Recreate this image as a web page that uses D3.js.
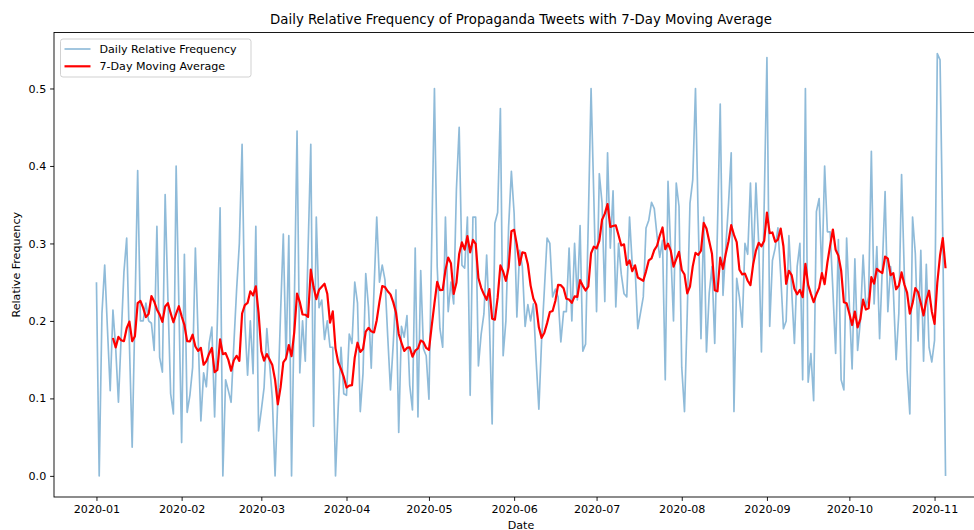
<!DOCTYPE html>
<head>
    <meta charset="utf-8">
    <title>Daily Relative Frequency of Propaganda Tweets</title>
    <style>
        body { margin: 0; background: #fff; }
        text { font-family: 'DejaVu Sans', sans-serif; fill: #000; }
        .axis path, .axis line { stroke: #000; stroke-width: 0.9; }
        .axis text { font-size: 11.1px; }
    </style>
</head>
<body>

<svg width="974" height="530"></svg>

<script src="https://cdnjs.cloudflare.com/ajax/libs/d3/7.8.5/d3.min.js"></script>

<script>

// daily relative frequency, one value per day from 2020-01-01 (two days have no row)
var startDate = '2020-01-01';
var missingDates = ['2020-03-04', '2020-07-17'];
var dailyValues = [
    0.25, 0.0, 0.21, 0.272, 0.19, 0.11, 0.214, 0.165, 0.095, 0.18,
    0.263, 0.307, 0.17, 0.037, 0.21, 0.394, 0.2, 0.2, 0.223, 0.2,
    0.197, 0.162, 0.322, 0.153, 0.134, 0.363, 0.23, 0.106, 0.08, 0.40,
    0.22, 0.043, 0.286, 0.082, 0.104, 0.14, 0.294, 0.18, 0.071, 0.133,
    0.115, 0.171, 0.192, 0.076, 0.2, 0.346, 0.0, 0.124, 0.11, 0.095,
    0.17, 0.24, 0.3, 0.428, 0.2, 0.13, 0.2, 0.132, 0.322, 0.058,
    0.085, 0.114, 0.19, 0.1, 0.0, 0.1, 0.21, 0.312, 0.15, 0.31,
    0.0, 0.22, 0.445, 0.133, 0.2, 0.148, 0.29, 0.428, 0.064, 0.334,
    0.217, 0.227, 0.176, 0.2, 0.166, 0.166, 0.0, 0.09, 0.166, 0.106,
    0.104, 0.183, 0.171, 0.25, 0.223, 0.083, 0.132, 0.261, 0.218, 0.139,
    0.24, 0.334, 0.25, 0.272, 0.253, 0.18, 0.111, 0.17, 0.24, 0.056,
    0.193, 0.179, 0.207, 0.117, 0.085, 0.294, 0.076, 0.265, 0.164, 0.155,
    0.099, 0.3, 0.50, 0.27, 0.19, 0.166, 0.334, 0.212, 0.25, 0.222,
    0.37, 0.45, 0.272, 0.268, 0.334, 0.104, 0.334, 0.334, 0.142, 0.183,
    0.209, 0.285, 0.2, 0.067, 0.326, 0.34, 0.474, 0.155, 0.2, 0.322,
    0.393, 0.339, 0.205, 0.291, 0.27, 0.193, 0.221, 0.2, 0.222, 0.15,
    0.086, 0.175, 0.24, 0.307, 0.30, 0.231, 0.241, 0.231, 0.173, 0.212,
    0.212, 0.294, 0.2, 0.30, 0.227, 0.323, 0.161, 0.17, 0.33, 0.50,
    0.36, 0.212, 0.39, 0.352, 0.225, 0.417, 0.294, 0.368, 0.218, 0.3,
    0.26, 0.235, 0.231, 0.334, 0.272, 0.27, 0.19, 0.231, 0.32, 0.33,
    0.353, 0.345, 0.31, 0.282, 0.304, 0.124, 0.38, 0.29, 0.2, 0.378,
    0.348, 0.14, 0.083, 0.21, 0.352, 0.382, 0.50, 0.33, 0.177, 0.334,
    0.16, 0.236, 0.27, 0.171, 0.32, 0.48, 0.233, 0.294, 0.35, 0.417,
    0.083, 0.255, 0.23, 0.192, 0.30, 0.286, 0.378, 0.272, 0.378, 0.3,
    0.16, 0.35, 0.54, 0.193, 0.278, 0.294, 0.32, 0.26, 0.19, 0.2,
    0.31, 0.24, 0.171, 0.27, 0.30, 0.124, 0.50, 0.121, 0.158, 0.097,
    0.341, 0.358, 0.257, 0.40, 0.315, 0.315, 0.24, 0.158, 0.305, 0.124,
    0.111, 0.307, 0.22, 0.138, 0.28, 0.162, 0.2, 0.285, 0.218, 0.231,
    0.419, 0.222, 0.296, 0.177, 0.27, 0.367, 0.212, 0.27, 0.24, 0.15,
    0.21, 0.389, 0.26, 0.136, 0.08, 0.334, 0.287, 0.174, 0.291, 0.148,
    0.273, 0.166, 0.147, 0.175, 0.545, 0.537, 0.306, 0.0
];
var windowSize = 7;
var yTicks = [0.0, 0.1, 0.2, 0.3, 0.4, 0.5];
var monthTicks = ['2020-01', '2020-02', '2020-03', '2020-04', '2020-05', '2020-06',
                  '2020-07', '2020-08', '2020-09', '2020-10', '2020-11'];
var seriesNames = ['Daily Relative Frequency', '7-Day Moving Average'];

var parseDay = d3.timeParse('%Y-%m-%d'),
    parseMonth = d3.timeParse('%Y-%m'),
    fmtDay = d3.timeFormat('%Y-%m-%d');

// walk the calendar, skipping the days that have no row
var dates = [];
var day = parseDay(startDate);
while (dates.length < dailyValues.length) {
    if (missingDates.indexOf(fmtDay(day)) < 0) dates.push(day);
    day = d3.timeDay.offset(day, 1);
}

var data = dailyValues.map((v, i) => ({ date: dates[i], value: v }));

// rolling mean over rows, like pandas .rolling(7).mean()
var rolling = data.map((d, i) => ({
    date: d.date,
    value: i < windowSize - 1 ? null : d3.mean(dailyValues.slice(i - windowSize + 1, i + 1))
}));

var svg = d3.select('svg');

// axes box (right edge lies past the picture, as in the source figure)
var box = { left: 54, right: 988, top: 32.5, bottom: 497 };
var xPad = (box.right - box.left) * 0.05 / 1.1;

var x = d3.scaleTime()
    .domain(d3.extent(data, d => d.date))
    .range([box.left + xPad, box.right - xPad]);

var yMax = d3.max(dailyValues), yMargin = yMax * 0.05;
var y = d3.scaleLinear()
    .domain([0 - yMargin, yMax + yMargin])
    .range([box.bottom, box.top]);

// lines
var line = d3.line()
    .defined(d => d.value !== null)
    .x(d => x(d.date))
    .y(d => y(d.value));

svg.append('path')
    .datum(data)
    .attr('fill', 'none')
    .attr('stroke', '#1f77b4')
    .attr('stroke-opacity', 0.5)
    .attr('stroke-width', 1.67)
    .attr('stroke-linejoin', 'round')
    .attr('d', line);

svg.append('path')
    .datum(rolling)
    .attr('fill', 'none')
    .attr('stroke', 'red')
    .attr('stroke-width', 2.2)
    .attr('stroke-linejoin', 'round')
    .attr('d', line);

// frame
svg.append('rect')
    .attr('x', box.left)
    .attr('y', box.top)
    .attr('width', box.right - box.left)
    .attr('height', box.bottom - box.top)
    .attr('fill', 'none')
    .attr('stroke', '#000')
    .attr('stroke-width', 0.9);

// x axis
svg.append('g')
    .attr('class', 'axis')
    .attr('transform', `translate(0,${box.bottom})`)
    .call(d3.axisBottom(x)
        .tickValues(monthTicks.map(parseMonth))
        .tickFormat(d3.timeFormat('%Y-%m'))
        .tickSize(3.9)
        .tickPadding(3.9)
        .tickSizeOuter(0))
    .call(g => g.select('.domain').remove());

// y axis
svg.append('g')
    .attr('class', 'axis')
    .attr('transform', `translate(${box.left},0)`)
    .call(d3.axisLeft(y)
        .tickValues(yTicks)
        .tickFormat(d3.format('.1f'))
        .tickSize(3.9)
        .tickPadding(3.9)
        .tickSizeOuter(0))
    .call(g => g.select('.domain').remove());

// labels
svg.append('text')
    .attr('x', (box.left + box.right) / 2)
    .attr('y', 24)
    .attr('text-anchor', 'middle')
    .style('font-size', '13.3px')
    .text('Daily Relative Frequency of Propaganda Tweets with 7-Day Moving Average');

svg.append('text')
    .attr('x', (box.left + box.right) / 2)
    .attr('y', 528.5)
    .attr('text-anchor', 'middle')
    .style('font-size', '11.1px')
    .text('Date');

svg.append('text')
    .attr('transform', `translate(20,${(box.top + box.bottom) / 2}) rotate(-90)`)
    .attr('text-anchor', 'middle')
    .style('font-size', '11.1px')
    .text('Relative Frequency');

// legend
var legend = svg.append('g')
    .attr('transform', 'translate(60.5,39)');

legend.append('rect')
    .attr('width', 190.5)
    .attr('height', 38)
    .attr('rx', 2.5)
    .attr('fill', '#fff')
    .attr('fill-opacity', 0.8)
    .attr('stroke', '#cccccc')
    .attr('stroke-width', 0.9);

var legendStyles = [
    { color: '#1f77b4', opacity: 0.5, width: 1.67 },
    { color: 'red', opacity: 1, width: 2.2 }
];

var item = legend.selectAll('.item')
    .data(seriesNames)
    .enter().append('g')
        .attr('class', 'item')
        .attr('transform', (d, i) => `translate(0,${10 + i * 17.3})`);

item.append('line')
    .attr('x1', 4)
    .attr('x2', 30)
    .attr('stroke', (d, i) => legendStyles[i].color)
    .attr('stroke-opacity', (d, i) => legendStyles[i].opacity)
    .attr('stroke-width', (d, i) => legendStyles[i].width);

item.append('text')
    .attr('x', 39)
    .attr('dy', '0.36em')
    .style('font-size', '11.1px')
    .text(d => d);

</script>

</body>
